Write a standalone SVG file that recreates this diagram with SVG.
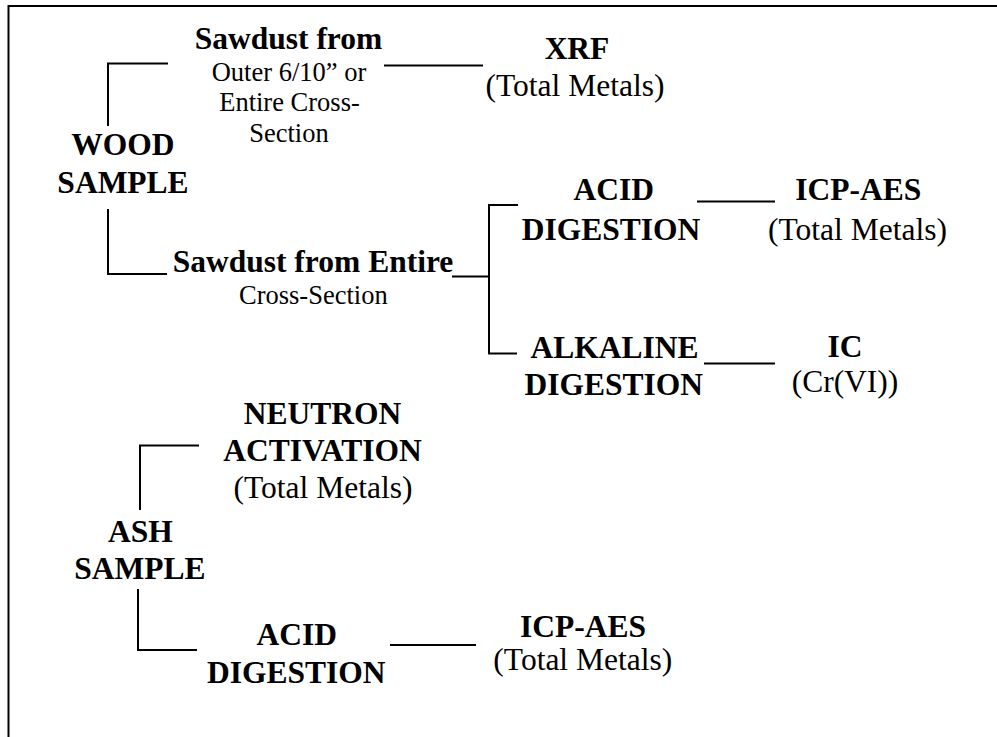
<svg xmlns="http://www.w3.org/2000/svg" width="997" height="737" viewBox="0 0 997 737">
<style>
.t text{fill:#000;text-anchor:middle}
.b{font-weight:bold;font-size:31.5px}
.r{font-size:31.5px}
.s{font-size:26.5px}
.ln{fill:none;stroke:#000;stroke-width:2}
</style>
<rect width="997" height="737" fill="#fff"/>
<g id="frame"><path class="ln" d="M8.5,737 V6 H997"/></g>
<g id="connectors">
<path class="ln" d="M168,63.5 H108 V126"/>
<path class="ln" d="M108,209 V274 H167"/>
<path class="ln" d="M384,65.5 H483"/>
<path class="ln" d="M452,276.5 H490"/>
<path class="ln" d="M518,205 H489 V353.5 H517"/>
<path class="ln" d="M697,201.5 H775"/>
<path class="ln" d="M704,363.5 H775"/>
<path class="ln" d="M199,445.5 H140 V510"/>
<path class="ln" d="M138,589 V650 H197"/>
<path class="ln" d="M390,645 H476"/>
</g>
<g class="t" font-family="Liberation Serif, Times New Roman, serif">
<g id="wood-sample"><text class="b" x="123" y="155">WOOD</text><text class="b" x="123" y="193">SAMPLE</text></g>
<g id="sawdust-outer"><text class="b" x="288.5" y="49">Sawdust from</text><text class="s" x="289" y="81">Outer 6/10” or</text><text class="s" x="289.5" y="111">Entire Cross-</text><text class="s" x="289" y="142">Section</text></g>
<g id="xrf"><text class="b" x="577" y="59">XRF</text><text class="r" x="575" y="96">(Total Metals)</text></g>
<g id="sawdust-entire"><text class="b" x="313" y="272">Sawdust from Entire</text><text class="s" x="313.3" y="304">Cross-Section</text></g>
<g id="acid-digestion-wood"><text class="b" x="613.8" y="200">ACID</text><text class="b" x="611" y="240">DIGESTION</text></g>
<g id="icp-aes-wood"><text class="b" x="858.3" y="200">ICP-AES</text><text class="r" x="857.5" y="240">(Total Metals)</text></g>
<g id="alkaline-digestion"><text class="b" x="614.5" y="358">ALKALINE</text><text class="b" x="613.8" y="395">DIGESTION</text></g>
<g id="ic"><text class="b" x="845" y="357">IC</text><text class="r" x="845" y="392">(Cr(VI))</text></g>
<g id="neutron-activation"><text class="b" x="322.5" y="424">NEUTRON</text><text class="b" x="322.5" y="461">ACTIVATION</text><text class="r" x="323" y="498">(Total Metals)</text></g>
<g id="ash-sample"><text class="b" x="140.3" y="542">ASH</text><text class="b" x="139.8" y="579">SAMPLE</text></g>
<g id="acid-digestion-ash"><text class="b" x="296.7" y="645">ACID</text><text class="b" x="296.2" y="683">DIGESTION</text></g>
<g id="icp-aes-ash"><text class="b" x="583" y="637">ICP-AES</text><text class="r" x="582.8" y="670">(Total Metals)</text></g>
</g>
</svg>
